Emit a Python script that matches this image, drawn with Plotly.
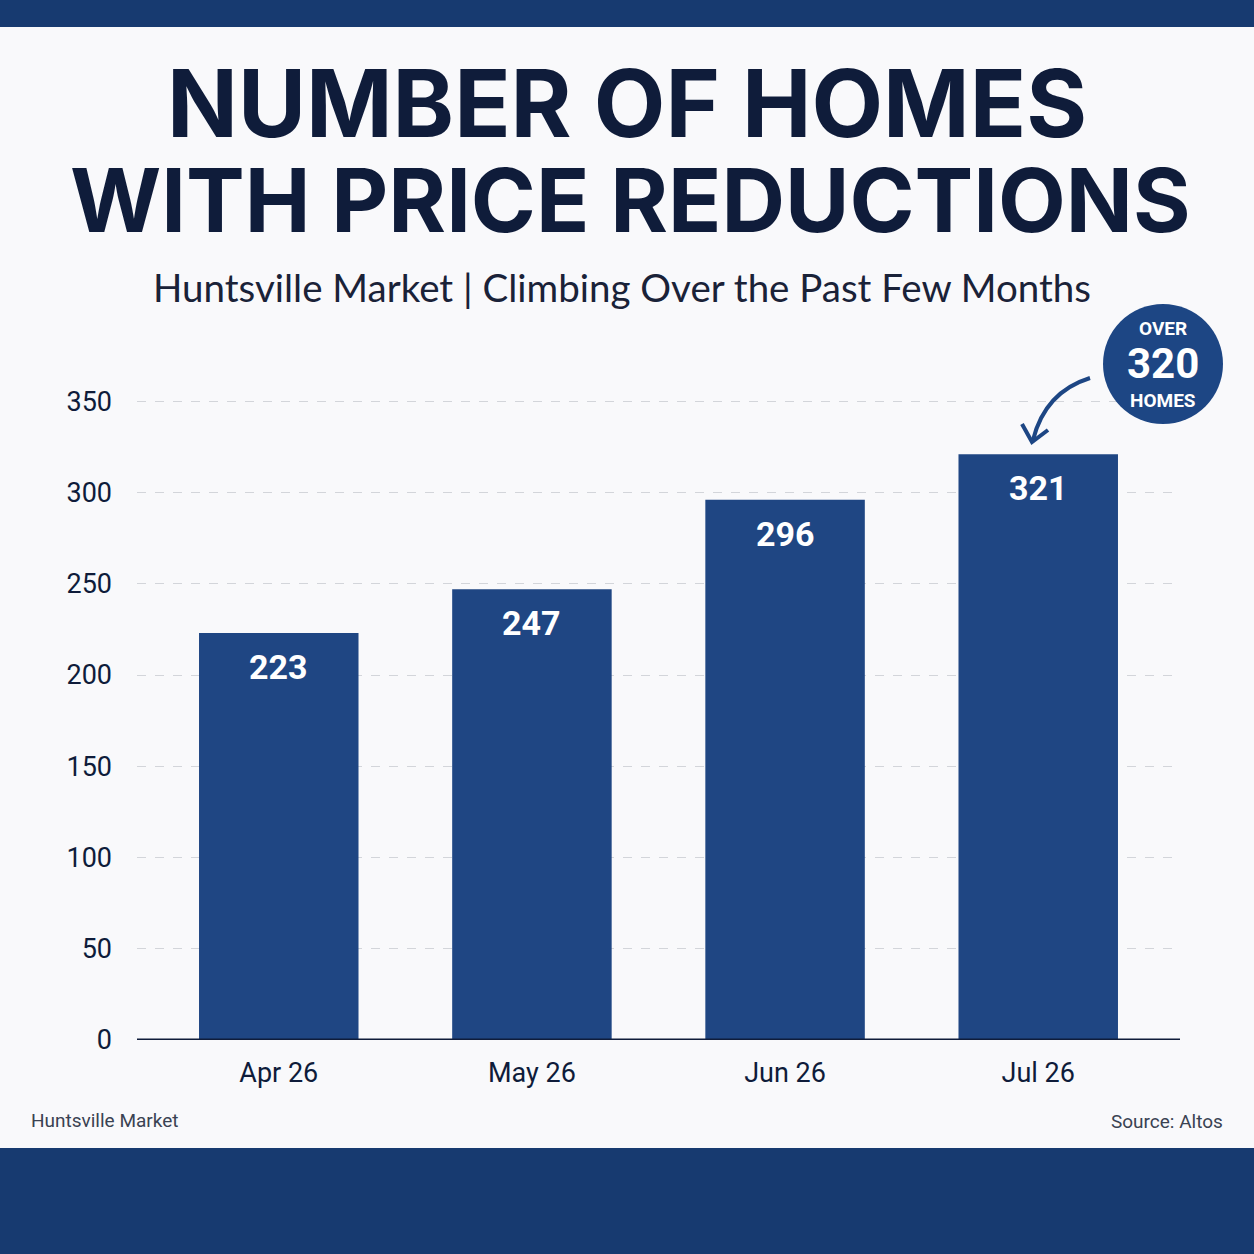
import plotly.graph_objects as go

months = ["Apr 26", "May 26", "Jun 26", "Jul 26"]
homes = [223, 247, 296, 321]
y_ticks = [0, 50, 100, 150, 200, 250, 300, 350]

W, H = 1254, 1254
# plot area in pixels
L, R, T, B = 137, 1180, 383, 1040

navy = "#173a70"
bar_blue = "#1f4683"
ink = "#0f1c3a"


def px(x):
	return (x - L) / (R - L)


def py(y):
	return (B - y) / (B - T)


fig = go.Figure()
fig.add_trace(go.Bar(
	x=list(range(len(months))),
	y=homes,
	width=0.63,
	marker=dict(color=bar_blue, line=dict(width=0)),
	hoverinfo="x+y",
))

# value labels inside the bars
for i, v in enumerate(homes):
	fig.add_annotation(
		x=i, y=v, yshift=-34, text="<b>%d</b>" % v, showarrow=False,
		font=dict(family="Roboto", size=34, color="white"),
	)

shapes = [
	# top and bottom bands
	dict(type="rect", xref="paper", yref="paper", x0=px(0), x1=px(W), y0=py(0), y1=py(27),
		fillcolor=navy, line=dict(width=0), layer="above"),
	dict(type="rect", xref="paper", yref="paper", x0=px(0), x1=px(W), y0=py(1148), y1=py(H),
		fillcolor=navy, line=dict(width=0), layer="above"),
	# baseline
	dict(type="line", xref="paper", yref="y", x0=0, x1=1, y0=0, y1=0,
		line=dict(color=ink, width=3), layer="above"),
	# badge circle
	dict(type="circle", xref="paper", yref="paper", x0=px(1103), x1=px(1223), y0=py(304), y1=py(424),
		fillcolor="#1d4684", line=dict(width=0), layer="above"),
	# curved arrow
	dict(type="path", xref="paper", yref="paper",
		path="M %f %f Q %f %f %f %f" % (px(1090), py(378), px(1045), py(392), px(1033), py(440)),
		line=dict(color="#1d4684", width=4), layer="above"),
	dict(type="path", xref="paper", yref="paper",
		path="M %f %f L %f %f L %f %f" % (px(1022), py(424), px(1032), py(442), px(1048), py(430)),
		line=dict(color="#1d4684", width=4), layer="above"),
]

texts = [
	dict(x=627, y=103, text="<b>NUMBER OF HOMES</b>", size=93, color=ink, family="Inter", anchor="center"),
	dict(x=630, y=200, text="<b>WITH PRICE REDUCTIONS</b>", size=88, color=ink, family="Inter", anchor="center"),
	dict(x=622, y=287, text="Huntsville Market | Climbing Over the Past Few Months", size=38.5, color="#1a2238", family="Lato", anchor="center"),
	dict(x=1163, y=329, text="<b>OVER</b>", size=19, color="white", family="Roboto", anchor="center"),
	dict(x=1163, y=363, text="<b>320</b>", size=42, color="white", family="Roboto", anchor="center"),
	dict(x=1163, y=400, text="<b>HOMES</b>", size=19, color="white", family="Roboto", anchor="center"),
	dict(x=30, y=1120, text="Huntsville Market", size=19, color="#3a4252", family="Roboto", anchor="left"),
	dict(x=1224, y=1121, text="Source: Altos", size=19, color="#3a4252", family="Roboto", anchor="right"),
]
annotations = []
for t in texts:
	annotations.append(dict(
		xref="paper", yref="paper", x=px(t["x"]), y=py(t["y"]), text=t["text"], showarrow=False,
		xanchor=t["anchor"], yanchor="middle", borderpad=0,
		font=dict(family=t["family"], size=t["size"], color=t["color"]),
	))

fig.update_layout(
	width=W, height=H,
	margin=dict(l=L, r=W - R, t=T, b=H - B, pad=0),
	paper_bgcolor="#f9f9fb",
	plot_bgcolor="#f9f9fb",
	showlegend=False,
	bargap=0.37,
	shapes=shapes,
	xaxis=dict(
		tickmode="array", tickvals=list(range(len(months))), ticktext=months,
		range=[-0.56, 3.56], showgrid=False, zeroline=False, showline=False,
		ticks="", ticklabelstandoff=14,
		tickfont=dict(family="Roboto", size=27, color=ink),
	),
	yaxis=dict(
		range=[0, 360], tickvals=y_ticks, showgrid=True, gridcolor="#d3d5da",
		griddash="dash", gridwidth=1, zeroline=False, showline=False, ticks="",
		ticklabelstandoff=24,
		tickfont=dict(family="Roboto", size=27, color=ink),
	),
)
fig.update_layout(annotations=list(fig.layout.annotations) + annotations)

fig.write_html("out.html", config={"displayModeBar": False},
	post_script="document.body.style.margin='0';")
